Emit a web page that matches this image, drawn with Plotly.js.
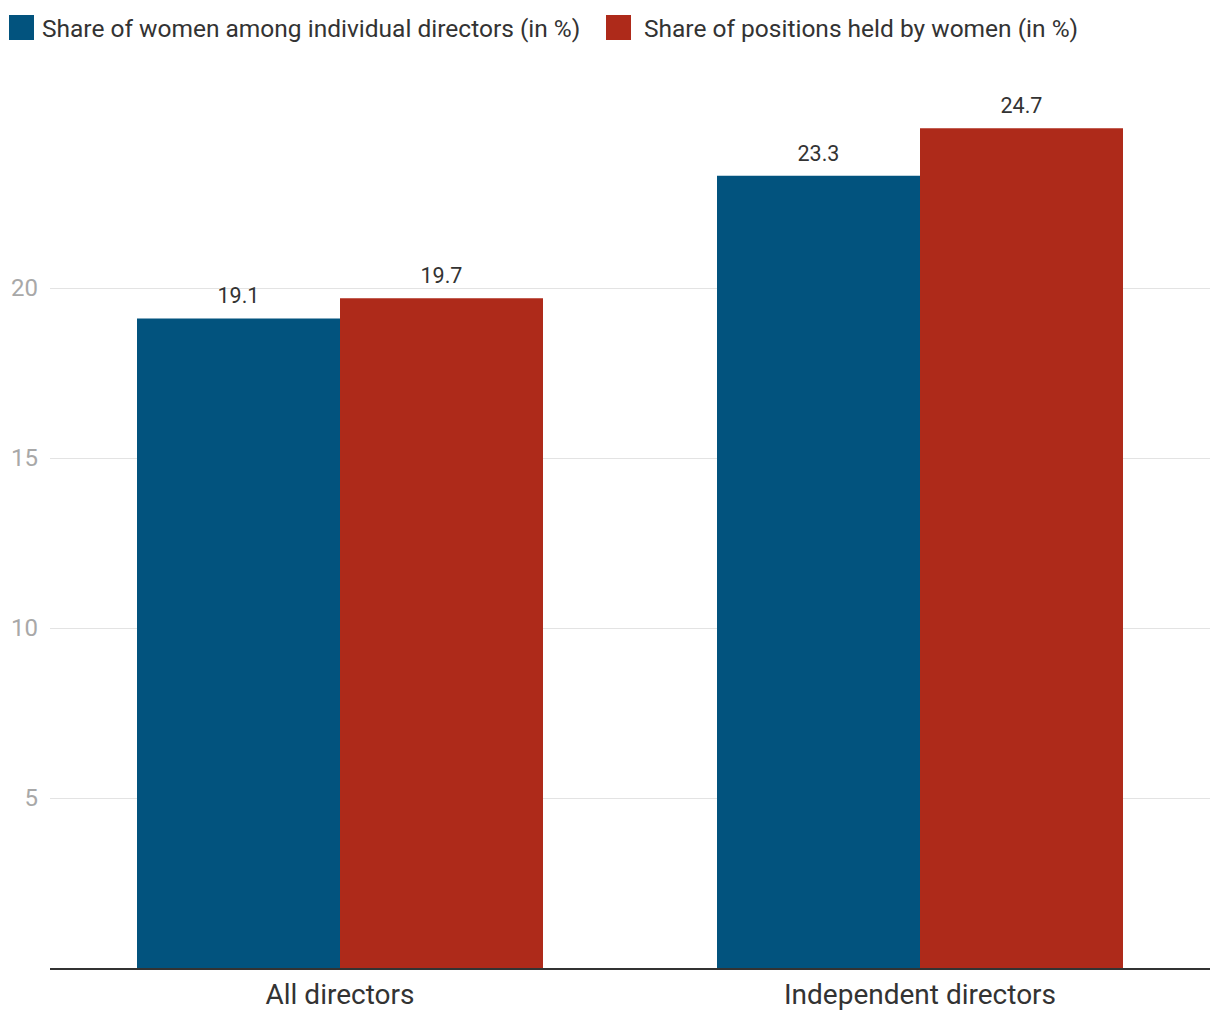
<!DOCTYPE html>
<html>
<head>
<meta charset="utf-8">
<script src="https://cdn.plot.ly/plotly-3.0.1.min.js"></script>
<style>html,body{margin:0;padding:0;background:#fff;}#chart{width:1220px;height:1020px;}</style>
</head>
<body>
<div id="chart"></div>
<script>
const categories = ["All directors", "Independent directors"];
const seriesNames = ["Share of women among individual directors (in %)", "Share of positions held by women (in %)"];
const womenAmongDirectors = [19.1, 23.3];
const positionsHeldByWomen = [19.7, 24.7];
const yTicks = [5, 10, 15, 20];
const colors = ["#02537e", "#ae2a1a"];
const FONT = "Roboto, sans-serif";

const W = 1220, H = 1020;
const M = {l: 50, r: 10, t: 50, b: 52};
const pw = W - M.l - M.r, ph = H - M.t - M.b;
const px = x => (x - M.l) / pw;
const py = y => (H - M.b - y) / ph;

const seriesValues = [womenAmongDirectors, positionsHeldByWomen];

const bars = seriesValues.map((vals, i) => ({
  type: "bar",
  name: seriesNames[i],
  x: categories,
  y: vals,
  offsetgroup: String(i),
  marker: {color: colors[i], line: {width: 0}},
  hoverinfo: "skip",
  showlegend: false
}));

// value labels as grouped scatter traces (invisible markers give the gap above the bar)
const labels = seriesValues.map((vals, i) => ({
  type: "scatter",
  mode: "markers+text",
  x: categories,
  y: vals,
  offsetgroup: String(i),
  marker: {size: 14, opacity: 0},
  text: vals.map(v => v.toFixed(1)),
  textposition: "top center",
  textfont: {color: "#333", size: 21.5, family: FONT},
  cliponaxis: false,
  hoverinfo: "skip",
  showlegend: false
}));

// custom legend (large square swatches like the reference)
const legendItems = [
  {sq: 9, tx: 40},
  {sq: 606, tx: 642}
];
const shapes = legendItems.map((it, i) => ({
  type: "rect", xref: "paper", yref: "paper",
  x0: px(it.sq), x1: px(it.sq + 25), y0: py(40), y1: py(15),
  fillcolor: colors[i], line: {width: 0}
}));
const annotations = legendItems.map((it, i) => ({
  xref: "paper", yref: "paper", x: px(it.tx), y: py(28),
  xanchor: "left", yanchor: "middle", showarrow: false,
  text: seriesNames[i], font: {size: 24.5, color: "#333", family: FONT}
}));

const layout = {
  width: W, height: H,
  margin: M,
  paper_bgcolor: "#fff", plot_bgcolor: "#fff",
  font: {family: FONT, color: "#333"},
  barmode: "group",
  bargap: 0.3,
  bargroupgap: 0,
  scattermode: "group",
  scattergap: 0.3,
  showlegend: false,
  shapes: shapes,
  annotations: annotations,
  xaxis: {
    tickfont: {size: 28, color: "#333", family: FONT},
    showline: true, linecolor: "#333", linewidth: 2,
    ticks: "", showgrid: false, fixedrange: true, automargin: false
  },
  yaxis: {
    range: [0, 27],
    tickvals: yTicks,
    ticktext: yTicks.map(String),
    tickfont: {size: 24, color: "#a8a8a8", family: FONT},
    ticklabelstandoff: 11,
    showgrid: true, gridcolor: "#e3e3e3", gridwidth: 1,
    zeroline: false, showline: false, ticks: "", fixedrange: true, automargin: false
  }
};

Plotly.newPlot("chart", bars.concat(labels), layout, {displayModeBar: false, staticPlot: true});
</script>
</body>
</html>
